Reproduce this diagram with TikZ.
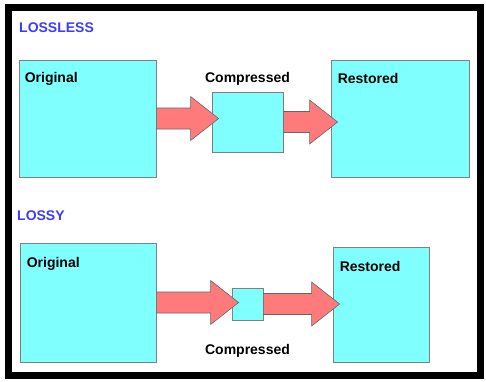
\documentclass[tikz,border=0pt]{standalone}
\usepackage{fontspec}
\newfontfamily\diagfont{Liberation Sans}
\usepackage{tikz}
\usetikzlibrary{positioning,calc}

\definecolor{boxcyan}{HTML}{80FFFF}
\definecolor{arrowred}{HTML}{FF7B7B}
\definecolor{titleblue}{HTML}{3C3CFF}

\newcommand{\fatarrow}[2]{%
  \draw[fat] let \p1=(#1.east), \p2=(#2.west) in
    (\x1,\y1+10.5pt) -- (\x2-21pt,\y1+10.5pt) -- (\x2-21pt,\y1+22pt) -- (\x2+7pt,\y1)
    -- (\x2-21pt,\y1-22pt) -- (\x2-21pt,\y1-10.5pt) -- (\x1,\y1-10.5pt) -- cycle;}

\begin{document}
\begin{tikzpicture}[x=1pt, y=-1pt,
  every node/.style={font=\diagfont\bfseries\fontsize{14}{16}\selectfont, inner sep=0pt},
  box/.style={draw=gray, line width=0.8pt, fill=boxcyan},
  fat/.style={draw=gray!80!black, line width=0.6pt, fill=arrowred},
  title/.style={text=titleblue, anchor=north west}]
  \useasboundingbox (0,0) rectangle (486,381);
  \draw[line width=7pt] (8,7) rectangle (480,375);

  \node[title] (lossless) at (19,23) {LOSSLESS};
  \node[box, minimum width=137pt, minimum height=117pt] (orig1) at (87.5,118.5) {};
  \node[box, minimum width=71pt, minimum height=60pt] (comp1) at (247.5,122) {};
  \node[box, minimum width=138pt, minimum height=117pt] (rest1) at (400,118.5) {};
  \node[anchor=north west] (origtxt1) at ($(orig1.north west)+(6,13)$) {Original};
  \node[anchor=north west] (resttxt1) at ($(rest1.north west)+(7,14)$) {Restored};
  \node[above=6pt of comp1] (comptxt1) {Compressed};
  \fatarrow{orig1}{comp1}
  \fatarrow{comp1}{rest1}

  \node[title] (lossy) at (17,211) {LOSSY};
  \node[box, minimum width=136pt, minimum height=119pt] (orig2) at (88,302.5) {};
  \node[box, minimum width=31pt, minimum height=32pt] (comp2) at (247.5,304) {};
  \node[box, minimum width=96pt, minimum height=115pt] (rest2) at (381,304.5) {};
  \node[anchor=north west] (origtxt2) at ($(orig2.north west)+(7,15)$) {Original};
  \node[anchor=north west] (resttxt2) at ($(rest2.north west)+(7,15)$) {Restored};
  \node[below=24pt of comp2] (comptxt2) {Compressed};
  \fatarrow{orig2}{comp2}
  \fatarrow{comp2}{rest2}
\end{tikzpicture}
\end{document}
